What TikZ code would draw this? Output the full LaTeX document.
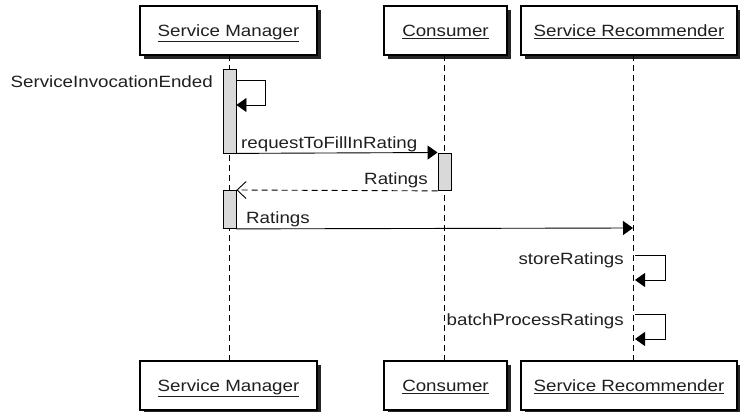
\documentclass[tikz,border=0pt]{standalone}
\usepackage{fontspec}
\setmainfont[FakeStretch=1.15]{Liberation Sans}
\usetikzlibrary{arrows.meta,shadows}

\begin{document}
\begin{tikzpicture}[x=1pt,y=-1pt,
  font=\fontsize{16.3}{19}\selectfont,
  party/.style={draw,line width=1.1pt,fill=white,inner sep=0pt,text=black!88,
    minimum height=49pt,text height=13pt,text depth=0.6pt,
    drop shadow={shadow xshift=4pt,shadow yshift=-4pt,fill=black!85,opacity=1}},
  life/.style={line width=0.9pt,dash pattern=on 6pt off 4pt},
  bar/.style={draw,line width=0.9pt,fill=black!15,minimum width=13pt,inner sep=0pt,anchor=north},
  msg/.style={line width=0.9pt,-{Triangle[length=10pt,width=14pt]}},
  reply/.style={line width=0.9pt,dash pattern=on 6pt off 4pt,
    -{Straight Barb[length=9pt,width=17pt,line width=0.9pt]}},
  lbl/.style={inner sep=0pt,text=black!88}]
\useasboundingbox (0,0) rectangle (740,412);

% participants, head row
\node[party,minimum width=177pt] (smTop) at (228.5,30.5) {\underline{Service Manager}};
\node[party,minimum width=123pt] (coTop) at (445.5,30.5) {\underline{Consumer}};
\node[party,minimum width=216pt] (srTop) at (629,30.5) {\underline{Service Recommender}};

% participants, foot row
\node[party,minimum width=177pt] (smBot) at (228.5,385.5) {\underline{Service Manager}};
\node[party,minimum width=123pt] (coBot) at (445.5,385.5) {\underline{Consumer}};
\node[party,minimum width=216pt] (srBot) at (629,385.5) {\underline{Service Recommender}};

% lifelines
\coordinate (smL1) at (229.5,55);  \coordinate (smL2) at (229.5,361);
\coordinate (coL1) at (444.5,55);  \coordinate (coL2) at (444.5,361);
\coordinate (srL1) at (633,55);    \coordinate (srL2) at (633,361);
\draw[life] (smL1) -- (smL2);
\draw[life] (coL1) -- (coL2);
\draw[life] (srL1) -- (srL2);

% activation bars
\node[bar,minimum height=83.5pt] (act1) at (229.5,69) {};
\node[bar,minimum height=37.5pt] (act2) at (444.5,152.5) {};
\node[bar,minimum height=38pt]   (act3) at (229.5,190) {};

% ServiceInvocationEnded (self call)
\draw[msg] (act1.north east) ++(0,11) -- ++(29,0) -- ++(0,25) -- ++(-29,0);
\node[lbl,anchor=base east] (l1) at (213,88) {ServiceInvocationEnded};

% requestToFillInRating
\draw[msg] (act1.south east) -- (act2.north west);
\node[lbl,anchor=base west] (l2) at (241,148) {requestToFillInRating};

% Ratings (reply)
\draw[reply] (act2.south west) -- (act3.north east);
\node[lbl,anchor=base east] (l3) at (428,185) {Ratings};

% Ratings to the recommender
\coordinate (srIn) at (633,228);
\draw[msg] (act3.south east) -- (srIn);
\node[lbl,anchor=base west] (l4) at (246,223) {Ratings};

% storeRatings (self call)
\coordinate (sr1) at (635,255);
\draw[msg] (sr1) -- ++(30,0) -- ++(0,25) -- ++(-30,0);
\node[lbl,anchor=base east] (l5) at (624,264) {storeRatings};

% batchProcessRatings (self call)
\coordinate (sr2) at (635,314);
\draw[msg] (sr2) -- ++(30,0) -- ++(0,25) -- ++(-30,0);
\node[lbl,anchor=base east] (l6) at (624,325) {batchProcessRatings};
\end{tikzpicture}
\end{document}
